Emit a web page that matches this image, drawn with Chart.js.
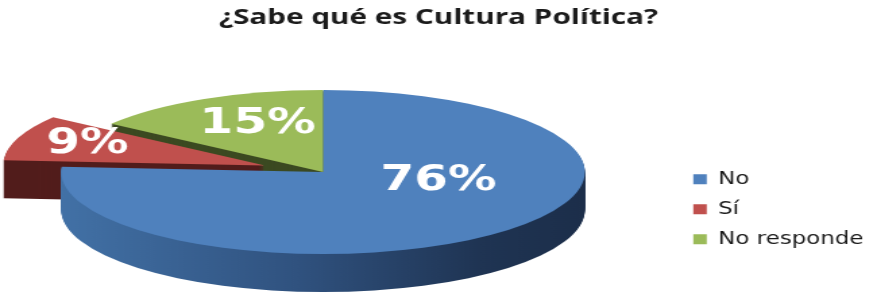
<!DOCTYPE html>
<html>
<head>
<meta charset="utf-8">
<script src="https://cdn.jsdelivr.net/npm/chart.js@4"></script>
<style>
  html, body { margin: 0; padding: 0; background: #fff; overflow: hidden; }
</style>
</head>
<body>
<!-- drawn at 650px wide, shown stretched to 877px like the original picture -->
<canvas id="pie" width="650" height="300" style="width:877px;height:300px"></canvas>
<script>
// ─── Data ────────────────────────────────────────────────────────────────────
const TITLE  = "¿Sabe qué es Cultura Política?";
const LABELS = ["No", "Sí", "No responde"];
const VALUES = [76, 9, 15];

// ─── Style ───────────────────────────────────────────────────────────────────
const TOP_COLORS  = ["#4F81BD", "#C0504D", "#9BBB59"];
const SIDE_COLORS = [null, "#521d1c", "#3c4a22"];   // null → gradient for the big slice
const EXPLODE     = [0, 27, 0];                       // slice pulled out (px, before squash)
const SQUASH_X    = 1.695;                            // ellipse radius x / pie radius
const SQUASH_Y    = 0.716;                            // ellipse radius y / pie radius
const DEPTH       = 0.33;                             // side height / pie radius
const PIE_SHIFT_X = -11;
const LABEL_POS   = [[0.644, 0.084], [0.72, 0.92], [0.55, 0.71]];  // fraction of radius along mid angle

Chart.defaults.font.family = "'DejaVu Sans', sans-serif";

function pctLabel(v) {
    const total = VALUES.reduce((a, b) => a + b, 0);
    return Math.round(v / total * 100) + "%";
}

// ─── Fake 3D pie: squash the library's arcs into an ellipse and extrude ─────
const pie3d = {
    id: "pie3d",
    beforeDatasetsDraw(chart) {
        const { ctx } = chart;
        const arcs = chart.getDatasetMeta(0).data;
        const R  = arcs[0].outerRadius;
        const cx = arcs[0].x + PIE_SHIFT_X;
        const cy = arcs[0].y;
        const rx = R * SQUASH_X, ry = R * SQUASH_Y;
        const depth = Math.round(R * DEPTH);

        const pieces = arcs.map((a, i) => {
            const off = a.options.offset || 0;
            const mid = (a.startAngle + a.endAngle) / 2;
            return {
                a, i, mid,
                x: cx + Math.cos(mid) * off * SQUASH_X,
                y: cy + Math.sin(mid) * off * SQUASH_Y
            };
        });

        const sector = (p, dy) => {
            ctx.beginPath();
            ctx.moveTo(p.x, p.y + dy);
            ctx.ellipse(p.x, p.y + dy, rx, ry, 0, p.a.startAngle, p.a.endAngle);
            ctx.closePath();
        };

        const grad = ctx.createLinearGradient(cx - rx, 0, cx + rx, 0);
        grad.addColorStop(0, "#4271a6");
        grad.addColorStop(0.45, "#30527f");
        grad.addColorStop(0.8, "#1f3453");
        grad.addColorStop(1, "#1c2e4a");

        ctx.save();
        // side walls: stacked copies from the bottom up
        for (let d = depth; d > 0; d--) {
            pieces.forEach(p => {
                sector(p, d);
                ctx.fillStyle = SIDE_COLORS[p.i] || grad;
                ctx.fill();
            });
        }
        // top faces
        pieces.forEach(p => {
            sector(p, 0);
            ctx.fillStyle = p.a.options.backgroundColor;
            ctx.fill();
        });
        // value labels
        ctx.font = "bold 36px 'DejaVu Sans'";
        ctx.fillStyle = "#ffffff";
        ctx.textAlign = "center";
        ctx.textBaseline = "alphabetic";
        pieces.forEach(p => {
            const [fx, fy] = LABEL_POS[p.i];
            const lx = p.x + Math.cos(p.mid) * rx * fx;
            const ly = p.y + Math.sin(p.mid) * ry * fy;
            ctx.fillText(pctLabel(VALUES[p.i]), lx, ly + 13);
        });
        ctx.restore();
        return false;
    }
};

new Chart(document.getElementById("pie").getContext("2d"), {
    type: "pie",
    plugins: [pie3d],
    data: {
        labels: LABELS,
        datasets: [{
            data: VALUES,
            backgroundColor: TOP_COLORS,
            borderWidth: 0,
            offset: EXPLODE
        }]
    },
    options: {
        responsive: false,
        animation: false,
        plugins: {
            title: {
                display: true,
                text: TITLE,
                color: "#1b1b1b",
                font: { family: "'Open Sans'", size: 22, weight: "bold" },
                padding: { top: 5, bottom: 12.6 }
            },
            legend: {
                position: "right",
                title: { display: true, text: " ", padding: { top: 104, bottom: 0 } },
                labels: {
                    font: { size: 17 },
                    color: "#1a1a1a",
                    boxWidth: 10,
                    boxHeight: 10,
                    padding: 13
                }
            },
            tooltip: { enabled: false }
        }
    }
});
</script>
</body>
</html>
